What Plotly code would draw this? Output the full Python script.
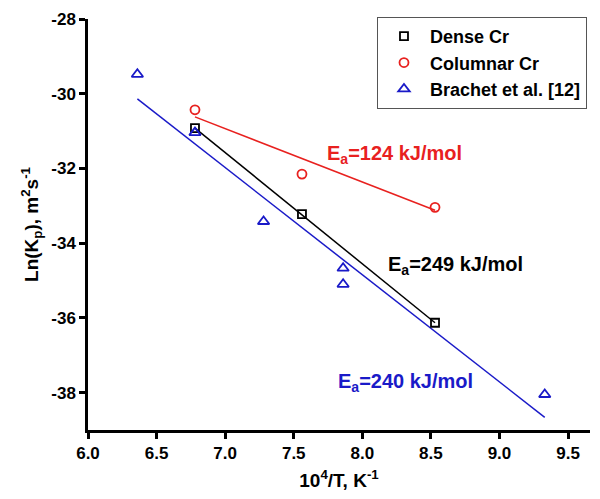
import plotly.graph_objects as go

# Data
dense_x = [6.78, 7.56, 8.53]
dense_y = [-30.92, -33.22, -36.13]
col_x = [6.78, 7.56, 8.53]
col_y = [-30.43, -32.15, -33.04]
brach_x = [6.36, 6.78, 7.28, 7.86, 7.86, 9.33]
brach_y = [-29.48, -31.04, -33.42, -34.67, -35.10, -38.05]

dense_fit_x = [6.78, 8.53]
dense_fit_y = [-30.92, -36.13]
col_fit_x = [6.78, 8.53]
col_fit_y = [-30.62, -33.12]
brach_fit_x = [6.36, 9.33]
brach_fit_y = [-30.14, -38.66]

xticks = [6.0, 6.5, 7.0, 7.5, 8.0, 8.5, 9.0, 9.5]
yticks = [-38, -36, -34, -32, -30, -28]

FONT = "Liberation Sans, Arial, sans-serif"
RED = "#e8211f"
BLUE = "#1a1ac8"

fig = go.Figure()
fig.add_trace(go.Scatter(x=dense_fit_x, y=dense_fit_y, mode="lines",
                         line=dict(color="black", width=1.5), showlegend=False))
fig.add_trace(go.Scatter(x=col_fit_x, y=col_fit_y, mode="lines",
                         line=dict(color=RED, width=1.5), showlegend=False))
fig.add_trace(go.Scatter(x=brach_fit_x, y=brach_fit_y, mode="lines",
                         line=dict(color=BLUE, width=1.5), showlegend=False))

fig.add_trace(go.Scatter(x=dense_x, y=dense_y, mode="markers", name="Dense Cr",
                         marker=dict(symbol="square-open", size=8, color="black",
                                     line=dict(width=1.8))))
fig.add_trace(go.Scatter(x=col_x, y=col_y, mode="markers", name="Columnar Cr",
                         marker=dict(symbol="circle-open", size=9, color=RED,
                                     line=dict(width=1.8))))
fig.add_trace(go.Scatter(x=brach_x, y=brach_y, mode="markers", name="Brachet et al. [12]",
                         marker=dict(symbol="triangle-up-open", size=10, color=BLUE,
                                     line=dict(width=1.8))))

annots = [
    (7.73, -31.62, "E<sub>a</sub>=124 kJ/mol", RED),
    (8.17, -34.59, "E<sub>a</sub>=249 kJ/mol", "black"),
    (7.81, -37.74, "E<sub>a</sub>=240 kJ/mol", BLUE),
]
for x, y, t, c in annots:
    fig.add_annotation(x=x, y=y, text=t, showarrow=False,
                       xanchor="left", yanchor="middle",
                       font=dict(family=FONT, size=20, color=c, weight="bold"))

axis_common = dict(showline=True, linecolor="black", linewidth=2.5,
                   ticks="outside", tickwidth=2.5, ticklen=6, tickcolor="black",
                   showgrid=False, zeroline=False, mirror=False,
                   tickfont=dict(family=FONT, size=17, color="black", weight="bold"))

fig.update_xaxes(range=[6.0, 9.66], tickvals=xticks,
                 ticktext=["<b>%.1f</b>" % v for v in xticks],
                 title=dict(text="10<sup>4</sup>/T, K<sup>-1</sup>",
                            font=dict(family=FONT, size=19, color="black", weight="bold"),
                            standoff=12),
                 **axis_common)
fig.update_yaxes(range=[-39, -28], tickvals=yticks,
                 ticktext=["<b>%d</b>" % v for v in yticks],
                 title=dict(text="Ln(K<sub>p</sub>), m<sup>2</sup>s<sup>-1</sup>",
                            font=dict(family=FONT, size=19, color="black", weight="bold"),
                            standoff=8),
                 **axis_common)

fig.update_layout(
    width=600, height=499,
    margin=dict(l=88, r=10, t=15, b=69),
    plot_bgcolor="white", paper_bgcolor="white",
    legend=dict(x=0.994, y=1.005, xanchor="right", yanchor="top",
                bordercolor="#555555", borderwidth=1, bgcolor="white",
                font=dict(family=FONT, size=18, color="black", weight="bold"),
                itemwidth=42, tracegroupgap=0),
    font=dict(family=FONT),
)

fig.write_html("out.html")
